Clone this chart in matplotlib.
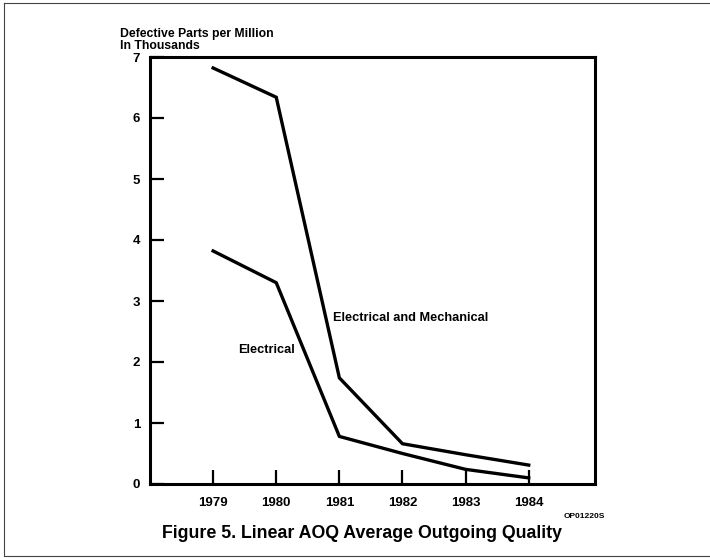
import matplotlib.pyplot as plt
from matplotlib.lines import Line2D

# data (thousands of defective parts per million)
years = [1979, 1980, 1981, 1982, 1983, 1984]
elec_mech = [6.82, 6.34, 1.74, 0.66, 0.48, 0.31]
elec = [3.82, 3.30, 0.78, 0.50, 0.24, 0.10]
y_ticks = [0, 1, 2, 3, 4, 5, 6, 7]

plt.rcParams['font.family'] = ['Liberation Sans', 'DejaVu Sans']
plt.rcParams['font.weight'] = 'bold'

fig = plt.figure(figsize=(7.1, 5.58), dpi=100)
ax = fig.add_axes([150/710, 1 - 484/558, 445/710, 427/558])

ax.plot(years, elec_mech, color='black', lw=2.4, solid_joinstyle='miter')
ax.plot(years, elec, color='black', lw=2.4, solid_joinstyle='miter')

ax.set_xlim(1978.0, 1985.05)
ax.set_ylim(0, 7)
ax.set_xticks(years)
ax.set_xticklabels([str(y) for y in years], fontsize=9.5, fontweight='bold')
ax.set_yticks(y_ticks)
ax.set_yticklabels([str(v) for v in y_ticks], fontsize=9.5, fontweight='bold')
ax.tick_params(axis='x', direction='in', length=10, width=1.6, pad=9)
ax.tick_params(axis='y', direction='in', length=10, width=1.6, pad=7)
for s in ax.spines.values():
    s.set_linewidth(2.2)

ax.text(1980.9, 2.68, 'Electrical and Mechanical', fontsize=9.2, fontweight='bold')
ax.text(1979.4, 2.15, 'Electrical', fontsize=9.2, fontweight='bold')

fig.text(120/710, 1 - 28/558, 'Defective Parts per Million\nIn Thousands',
         fontsize=8.8, fontweight='bold', va='top', linespacing=0.95)
fig.text(605/710, 1 - 517/558, 'OP01220S', fontsize=6, ha='right', va='center')
fig.text(362/710, 1 - 533/558, 'Figure 5. Linear AOQ Average Outgoing Quality',
         fontsize=12.8, fontweight='bold', ha='center', va='center')

# page frame (left, top, bottom edges)
for xs, ys in [([0.005, 0.005], [0.005, 0.995]), ([0.005, 1.0], [0.995, 0.995]),
               ([0.005, 1.0], [0.004, 0.004])]:
    fig.add_artist(Line2D(xs, ys, color='#444444', lw=0.8, transform=fig.transFigure))

fig.savefig('out.png', dpi=100)
